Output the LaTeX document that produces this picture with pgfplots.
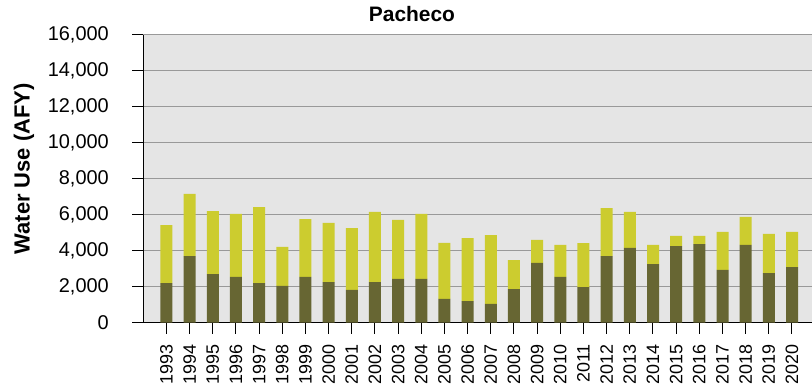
\documentclass[border=0pt]{standalone}
\usepackage{fontspec}
\setmainfont{Liberation Sans}
\usepackage{pgfplots}
\usepackage{pgfplotstable}
\pgfplotsset{compat=1.18}
\definecolor{darkolive}{HTML}{676633}
\definecolor{limeyellow}{HTML}{CCCC2F}
\definecolor{plotbg}{HTML}{E5E5E5}
\definecolor{gridgray}{HTML}{999999}

% year, dark (lower) part, light (upper) part
\pgfplotstableread{
year lower upper
1993 2200 3220
1994 3700 3450
1995 2700 3500
1996 2540 3500
1997 2200 4220
1998 2040 2170
1999 2540 3220
2000 2260 3280
2001 1820 3440
2002 2260 3890
2003 2430 3280
2004 2430 3610
2005 1320 3110
2006 1200 3500
2007 1040 3830
2008 1870 1610
2009 3320 1280
2010 2540 1780
2011 1980 2440
2012 3700 2670
2013 4150 2000
2014 3260 1060
2015 4260 560
2016 4370 450
2017 2930 2110
2018 4320 1560
2019 2760 2170
2020 3090 1950
}\pacheco

\begin{document}
\begin{tikzpicture}
\path[use as bounding box] (-143.3bp,-65.3bp) rectangle (668.7bp,322.7bp);
\begin{axis}[
  at={(0,0)}, anchor=south west,
  scale only axis, width=668.4bp, height=288bp,
  ybar stacked, bar width=12bp,
  xmin=1992, xmax=2020.85, ymin=0, ymax=16000,
  ytick={0,2000,...,16000},
  xtick={1993,...,2020},
  axis x line*=bottom, axis y line*=left,
  axis line style={black, line width=1.2bp},
  x axis line style={-}, y axis line style={-},
  tick align=outside, major tick length=11bp,
  tick style={black, line width=1bp},
  ymajorgrids, grid style={gridgray, line width=1.3bp},
  axis background/.style={fill=plotbg},
  /pgf/number format/assume math mode=true,
  /pgf/number format/1000 sep={,},
  scaled y ticks=false,
  tick label style={font=\fontsize{20}{23}\selectfont},
  yticklabel style={xshift=-20bp},
  xticklabel style={rotate=90, anchor=east, xshift=-7bp, font=\fontsize{18}{21}\selectfont, /pgf/number format/1000 sep=},
  title={Pacheco},
  title style={font=\fontsize{21}{24}\selectfont\bfseries, at={(axis description cs:0.402,1.05)}, anchor=center},
  ylabel={Water Use (AFY)},
  ylabel style={font=\fontsize{22}{25}\selectfont\bfseries, at={(axis description cs:-0.1785,0.534)}, anchor=center},
]
\addplot[fill=darkolive, draw=none] table[x=year, y=lower] {\pacheco};
\addplot[fill=limeyellow, draw=none] table[x=year, y=upper] {\pacheco};
\end{axis}
\end{tikzpicture}
\end{document}
